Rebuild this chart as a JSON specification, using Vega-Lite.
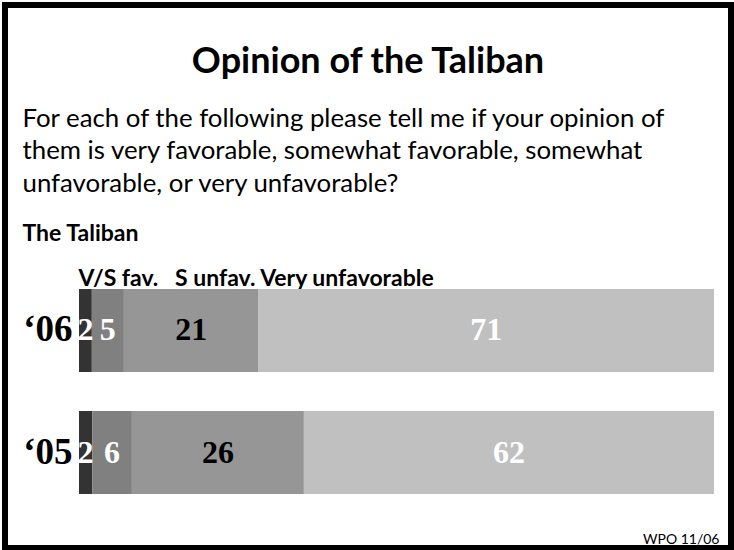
{
  "$schema": "https://vega.github.io/schema/vega-lite/v6.json",
  "width": 734,
  "height": 550,
  "autosize": {"type": "fit", "contains": "padding"},
  "padding": {"left": 5, "top": 5, "right": 3, "bottom": 2},
  "background": "#ffffff",
  "config": {"view": {"stroke": "#000000", "strokeWidth": 6}, "axis": {"grid": false}},
  "title": {"text": "Opinion of the Taliban", "anchor": "middle", "frame": "group", "orient": "top", "baseline": "top", "offset": -76, "font": "Lato", "fontSize": 36, "fontWeight": "bold", "color": "#000000"},
  "data": {"values": [
    {"year": "‘06", "opinion": "Very favorable", "rank": 1, "pct": 2},
    {"year": "‘06", "opinion": "Somewhat favorable", "rank": 2, "pct": 5},
    {"year": "‘06", "opinion": "Somewhat unfavorable", "rank": 3, "pct": 21},
    {"year": "‘06", "opinion": "Very unfavorable", "rank": 4, "pct": 71},
    {"year": "‘05", "opinion": "Very favorable", "rank": 1, "pct": 2},
    {"year": "‘05", "opinion": "Somewhat favorable", "rank": 2, "pct": 6},
    {"year": "‘05", "opinion": "Somewhat unfavorable", "rank": 3, "pct": 26},
    {"year": "‘05", "opinion": "Very unfavorable", "rank": 4, "pct": 62}
  ]},
  "layer": [
    {
      "mark": {"type": "bar"},
      "encoding": {
        "y": {"field": "year", "type": "nominal", "sort": ["‘06", "‘05"],
          "scale": {"range": [284, 489], "paddingInner": 0.32, "paddingOuter": 0},
          "axis": {"orient": "left", "offset": -74, "domain": false, "ticks": false, "labelPadding": 7,
            "labelFont": "Liberation Serif", "labelFontSize": 37, "labelFontWeight": "bold", "labelColor": "#000000",
            "title": ["For each of the following please tell me if your opinion of", "them is very favorable, somewhat favorable, somewhat", "unfavorable, or very unfavorable?"],
            "titleAngle": 0, "titleAlign": "left", "titleBaseline": "alphabetic", "titleX": -57, "titleY": 121,
            "titleFont": "Lato", "titleFontSize": 25.8, "titleFontWeight": "normal", "titleLineHeight": 32.5, "titleColor": "#000000"}},
        "x": {"field": "pct", "type": "quantitative", "stack": "normalize",
          "scale": {"range": [74, 709]},
          "axis": {"orient": "top", "domain": false, "ticks": false, "labels": false, "grid": false,
            "title": "V/S fav.\u00a0\u00a0 S unfav. Very unfavorable",
            "titleAlign": "left", "titleBaseline": "alphabetic", "titleX": 73, "titleY": 280, "titleAngle": 0,
            "titleFont": "Lato", "titleFontSize": 23, "titleFontWeight": "bold", "titleColor": "#000000"}},
        "color": {"field": "opinion", "type": "nominal", "legend": null,
          "scale": {"domain": ["Very favorable", "Somewhat favorable", "Somewhat unfavorable", "Very unfavorable"],
            "range": ["#333333", "#808080", "#969696", "#c0c0c0"]}},
        "order": {"field": "rank", "type": "quantitative"}
      }
    },
    {
      "mark": {"type": "text", "font": "Liberation Serif", "fontSize": 32, "fontWeight": "bold", "baseline": "middle", "align": "center"},
      "encoding": {
        "y": {"field": "year", "type": "nominal", "sort": ["‘06", "‘05"],
          "axis": {"orient": "right", "domain": false, "ticks": false, "labels": false,
            "title": "The Taliban", "titleAngle": 0, "titleAlign": "left", "titleBaseline": "alphabetic",
            "titleX": -709, "titleY": 235, "titleFont": "Lato", "titleFontSize": 23, "titleFontWeight": "bold", "titleColor": "#000000"}},
        "x": {"field": "pct", "type": "quantitative", "stack": "normalize", "bandPosition": 0.5,
          "axis": {"orient": "bottom", "domain": false, "ticks": false, "labels": false, "grid": false,
            "title": "WPO 11/06", "titleAlign": "right", "titleBaseline": "alphabetic", "titleX": 714, "titleY": -5, "titleAngle": 0,
            "titleFont": "Lato", "titleFontSize": 14, "titleFontWeight": "normal", "titleColor": "#000000"}},
        "text": {"field": "pct", "type": "quantitative"},
        "color": {"field": "opinion", "type": "nominal", "legend": null,
          "scale": {"domain": ["Very favorable", "Somewhat favorable", "Somewhat unfavorable", "Very unfavorable"],
            "range": ["#ffffff", "#ffffff", "#000000", "#ffffff"]}},
        "order": {"field": "rank", "type": "quantitative"}
      }
    }
  ],
  "resolve": {"scale": {"color": "independent"}, "axis": {"x": "independent", "y": "independent"}}
}
